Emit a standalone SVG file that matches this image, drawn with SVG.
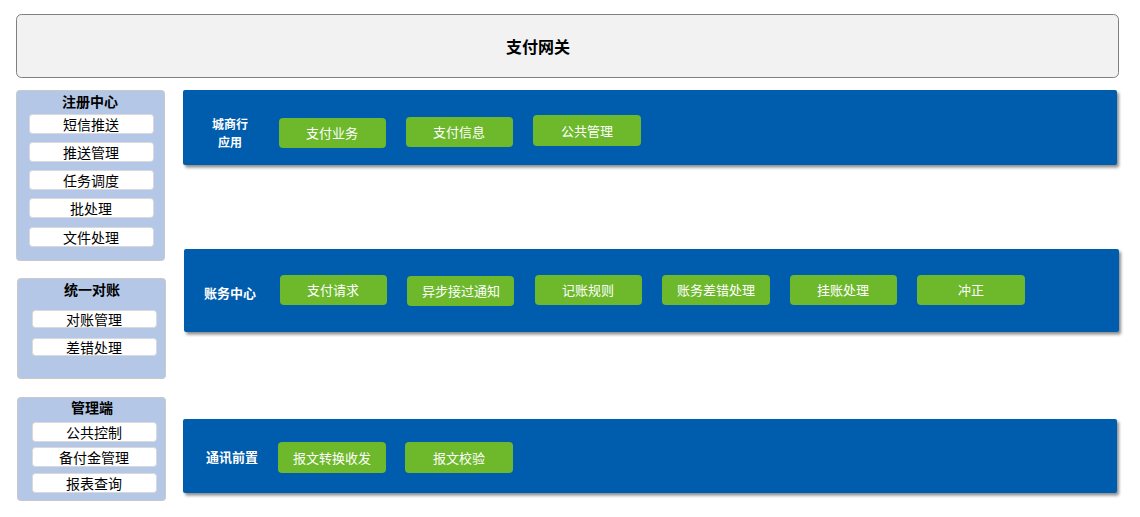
<svg xmlns="http://www.w3.org/2000/svg" width="1140" height="517" viewBox="0 0 1140 517">
<defs>
<filter id="sh" x="-5%" y="-20%" width="110%" height="150%">
<feDropShadow dx="2" dy="2.5" stdDeviation="1.5" flood-color="#000" flood-opacity="0.45"/>
</filter>
</defs>
<style>
text{font-family:"Noto Sans CJK SC","Liberation Sans",sans-serif;text-anchor:middle;dominant-baseline:central}
.hdr{fill:#f2f2f2;stroke:#7f7f7f;stroke-width:1}
.pnl{fill:#b4c7e7;stroke:#c9c9c9;stroke-width:1}
.itm{fill:#fff;stroke:#d9d9d9;stroke-width:1}
.band{fill:#005bac;filter:url(#sh)}
.btn{fill:#6db92b}
.t-h{font-size:16px;font-weight:bold;fill:#000}
.t-p{font-size:14px;font-weight:bold;fill:#000}
.t-i{font-size:14px;fill:#000}
.t-b{font-size:13px;font-weight:bold;fill:#fff}
.t-s{font-size:12px;font-weight:bold;fill:#fff}
.t-g{font-size:13px;fill:#fff}
</style>
<g id="gateway">
<rect class="hdr" x="16.5" y="14.5" width="1102" height="63" rx="5"/>
<text class="t-h" x="538" y="46">支付网关</text>
</g>
<g id="registry">
<rect class="pnl" x="16.5" y="90.5" width="148" height="170" rx="3"/>
<text class="t-p" x="90" y="101">注册中心</text>
<rect class="itm" x="29.5" y="114.5" width="124" height="19" rx="3"/><text class="t-i" x="91" y="124">短信推送</text>
<rect class="itm" x="29.5" y="142.5" width="124" height="19" rx="3"/><text class="t-i" x="91" y="152">推送管理</text>
<rect class="itm" x="29.5" y="170.5" width="124" height="19" rx="3"/><text class="t-i" x="91" y="180">任务调度</text>
<rect class="itm" x="29.5" y="198.5" width="124" height="19" rx="3"/><text class="t-i" x="91" y="208">批处理</text>
<rect class="itm" x="29.5" y="227.5" width="124" height="19" rx="3"/><text class="t-i" x="91" y="237">文件处理</text>
</g>
<g id="reconcile">
<rect class="pnl" x="17.5" y="278.5" width="148" height="100" rx="3"/>
<text class="t-p" x="92" y="289">统一对账</text>
<rect class="itm" x="32.5" y="310.5" width="124" height="17" rx="3"/><text class="t-i" x="94" y="319">对账管理</text>
<rect class="itm" x="32.5" y="338.5" width="124" height="17" rx="3"/><text class="t-i" x="94" y="347">差错处理</text>
</g>
<g id="admin">
<rect class="pnl" x="17.5" y="397.5" width="148" height="103" rx="3"/>
<text class="t-p" x="92" y="407">管理端</text>
<rect class="itm" x="32.5" y="422.5" width="124" height="19" rx="3"/><text class="t-i" x="94" y="432">公共控制</text>
<rect class="itm" x="32.5" y="447.5" width="124" height="19" rx="3"/><text class="t-i" x="94" y="457">备付金管理</text>
<rect class="itm" x="32.5" y="473.5" width="124" height="19" rx="3"/><text class="t-i" x="94" y="483">报表查询</text>
</g>
<g id="bank-app">
<rect class="band" x="183" y="90" width="934" height="75" rx="2"/>
<text class="t-s" x="230" y="123.5">城商行</text>
<text class="t-s" x="230" y="141.5">应用</text>
<rect class="btn" x="279" y="118" width="107" height="30" rx="4"/><text class="t-g" x="332" y="132">支付业务</text>
<rect class="btn" x="406" y="117" width="107" height="30" rx="4"/><text class="t-g" x="459" y="131">支付信息</text>
<rect class="btn" x="533" y="115" width="108" height="31" rx="4"/><text class="t-g" x="587" y="130">公共管理</text>
</g>
<g id="accounting">
<rect class="band" x="184" y="249" width="935" height="83" rx="2"/>
<text class="t-b" x="230" y="292">账务中心</text>
<rect class="btn" x="280" y="275" width="107" height="30" rx="4"/><text class="t-g" x="333" y="289">支付请求</text>
<rect class="btn" x="407" y="276" width="107" height="30" rx="4"/><text class="t-g" x="461" y="290">异步接过通知</text>
<rect class="btn" x="535" y="275" width="107" height="30" rx="4"/><text class="t-g" x="588" y="289">记账规则</text>
<rect class="btn" x="662" y="275" width="108" height="30" rx="4"/><text class="t-g" x="716" y="289">账务差错处理</text>
<rect class="btn" x="790" y="275" width="107" height="30" rx="4"/><text class="t-g" x="843" y="289">挂账处理</text>
<rect class="btn" x="917" y="275" width="108" height="30" rx="4"/><text class="t-g" x="971" y="289">冲正</text>
</g>
<g id="comm-front">
<rect class="band" x="183" y="419" width="934" height="74" rx="2"/>
<text class="t-b" x="232" y="456">通讯前置</text>
<rect class="btn" x="278" y="442" width="108" height="31" rx="4"/><text class="t-g" x="332" y="457">报文转换收发</text>
<rect class="btn" x="405" y="442" width="108" height="31" rx="4"/><text class="t-g" x="459" y="457">报文校验</text>
</g>
<g id="connectors"/>
</svg>
